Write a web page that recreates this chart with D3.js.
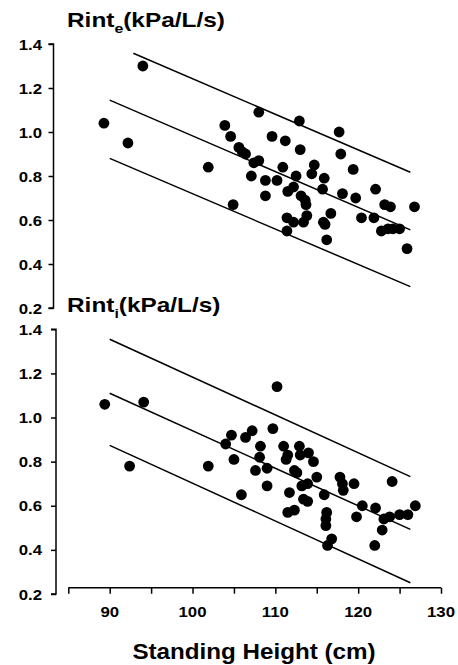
<!DOCTYPE html>
<html>
<head>
<meta charset="utf-8">
<script src="https://cdn.jsdelivr.net/npm/d3@7.9.0/dist/d3.min.js"></script>
<style>
  html, body { margin: 0; padding: 0; background: #fff; }
  svg { display: block; font-family: 'Liberation Sans', Arial, sans-serif; font-weight: bold; }
</style>
</head>
<body>
<svg width="458" height="665"></svg>
<script>
// Rint_e panel (expiratory)
const topHeight = [94.0, 89.3, 92.2, 101.9, 103.9, 104.6, 104.9, 105.6, 106.0, 106.4, 107.1, 107.4, 108.0, 108.0, 108.8, 108.8, 109.6, 110.2, 110.9, 111.2, 111.4, 111.4, 111.5, 112.2, 112.2, 112.5, 112.9, 113.0, 113.1, 113.6, 113.7, 113.4, 113.8, 114.4, 114.7, 115.7, 115.9, 115.8, 116.0, 116.2, 116.7, 117.7, 117.9, 118.1, 119.4, 119.7, 120.4, 121.9, 122.1, 122.8, 123.2, 123.9, 123.6, 124.2, 125.0, 125.9, 126.8];
const topRint = [1.30, 1.04, 0.95, 0.84, 1.03, 0.98, 0.67, 0.93, 0.91, 0.90, 0.80, 0.86, 0.87, 1.09, 0.78, 0.71, 0.98, 0.78, 0.84, 0.96, 0.61, 0.55, 0.73, 0.59, 0.75, 0.80, 1.05, 0.92, 0.71, 0.69, 0.67, 0.59, 0.62, 0.81, 0.85, 0.74, 0.79, 0.59, 0.58, 0.51, 0.63, 1.00, 0.90, 0.72, 0.83, 0.70, 0.61, 0.61, 0.74, 0.55, 0.67, 0.66, 0.56, 0.56, 0.56, 0.47, 0.66];
// regression line and limits: [x1, y1, x2, y2]
const topLines = [
  [92.85, 1.358, 126.3, 0.817],
  [90.0, 1.145, 126.3, 0.555],
  [90.0, 0.880, 126.3, 0.297]
];

// Rint_i panel (inspiratory)
const botHeight = [89.4, 92.4, 94.1, 101.9, 104.0, 104.7, 105.0, 105.9, 106.4, 107.2, 107.6, 108.2, 108.1, 109.0, 109.0, 109.7, 110.2, 111.0, 111.3, 111.5, 111.7, 111.5, 112.3, 112.3, 112.6, 112.9, 113.0, 113.2, 113.9, 113.4, 113.9, 114.0, 114.6, 115.0, 115.9, 116.2, 116.1, 116.1, 116.3, 116.8, 117.8, 118.1, 118.2, 119.5, 119.8, 120.5, 122.1, 122.0, 122.9, 123.1, 123.8, 124.1, 125.0, 126.0, 126.9];
const botRint = [1.06, 0.78, 1.07, 0.78, 0.88, 0.92, 0.81, 0.65, 0.91, 0.94, 0.76, 0.87, 0.82, 0.77, 0.69, 0.95, 1.14, 0.87, 0.81, 0.83, 0.66, 0.57, 0.58, 0.76, 0.75, 0.87, 0.83, 0.69, 0.70, 0.63, 0.62, 0.84, 0.80, 0.73, 0.65, 0.57, 0.54, 0.51, 0.42, 0.45, 0.73, 0.70, 0.67, 0.70, 0.55, 0.60, 0.59, 0.42, 0.49, 0.54, 0.55, 0.71, 0.56, 0.56, 0.60];
const botLines = [
  [90.0, 1.355, 126.3, 0.732],
  [90.0, 1.110, 126.3, 0.493],
  [90.0, 0.874, 126.3, 0.251]
];

const yTicks = [0.2, 0.4, 0.6, 0.8, 1.0, 1.2, 1.4];
const xTicks = [85, 90, 95, 100, 105, 110, 115, 120, 125, 130];
const xLabels = [90, 100, 110, 120, 130];

const svg = d3.select('svg');

let x = d3.scaleLinear().domain([85, 130]).range([68.3, 441]);

// the scanned lettering is wider than Arial, so stretch it a bit
function addText(g, px, py, str, size, anchor, stretch) {
  return g.append('text')
    .attr('transform', `translate(${px},${py}) scale(${stretch},1)`)
    .attr('text-anchor', anchor)
    .attr('font-size', size)
    .text(str);
}

function drawPanel(top, bottom, axisX, heights, rints, lines, sub) {
  let y = d3.scaleLinear().domain([0.2, 1.4]).range([bottom, top]);
  let g = svg.append('g');

  // y axis
  let yAxis = d3.axisLeft(y).tickValues(yTicks).tickSize(5).tickFormat('');
  g.append('g').attr('transform', `translate(${axisX},0)`).call(yAxis)
    .call(a => a.select('.domain').attr('d', `M-5,${top}H0V${bottom}H-5`).attr('stroke-width', 1.5))
    .call(a => a.selectAll('.tick line').attr('stroke-width', 1.5));
  yTicks.forEach(t => {
    addText(g, 42, y(t) + 5.5, t.toFixed(1), 15, 'end', 1.12);
  });

  // title
  let tt = g.append('text')
    .attr('transform', `translate(67,${top - 17}) scale(1.22,1)`)
    .attr('font-size', 20);
  tt.append('tspan').text('Rint');
  tt.append('tspan').attr('font-size', 13).attr('dy', 6).text(sub);
  tt.append('tspan').attr('dy', -6).text('(kPa/L/s)');

  // lines
  g.selectAll('line.fit')
    .data(lines)
    .join('line')
    .attr('class', 'fit')
    .attr('x1', d => x(d[0]))
    .attr('y1', d => y(d[1]))
    .attr('x2', d => x(d[2]))
    .attr('y2', d => y(d[3]))
    .attr('stroke', '#000')
    .attr('stroke-width', 1.5);

  // points
  g.selectAll('circle')
    .data(heights.map((h, i) => [h, rints[i]]))
    .join('circle')
    .attr('cx', d => x(d[0]))
    .attr('cy', d => y(d[1]))
    .attr('r', 5.4)
    .attr('fill', '#000');
}

drawPanel(44, 308, 53.5, topHeight, topRint, topLines, 'e');
drawPanel(329.3, 594, 56, botHeight, botRint, botLines, 'i');

// x axis
let xAxis = d3.axisBottom(x).tickValues(xTicks).tickSize(6).tickFormat('');
svg.append('g').attr('transform', 'translate(0,587.7)').call(xAxis)
  .call(a => a.select('.domain').attr('d', `M${x(85)},0H${x(130)}`).attr('stroke-width', 1.5))
  .call(a => a.selectAll('.tick line').attr('stroke-width', 1.5));
xLabels.forEach(t => {
  addText(svg, x(t), 617, t, 15, 'middle', 1.12);
});

addText(svg, 254, 659, 'Standing Height (cm)', 22, 'middle', 1.1);
</script>
</body>
</html>
